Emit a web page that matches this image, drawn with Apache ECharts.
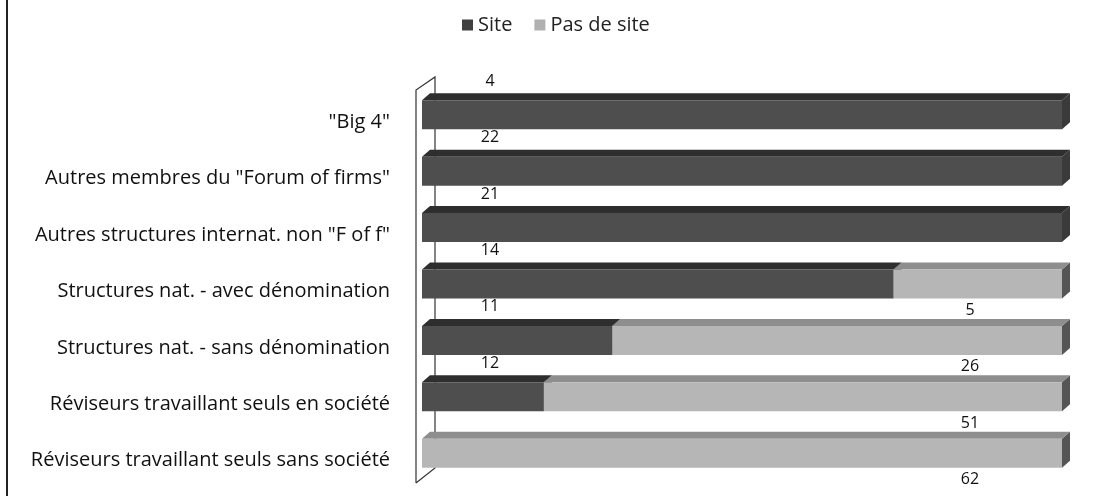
<!DOCTYPE html>
<html><head><meta charset="utf-8">
<script src="https://cdn.jsdelivr.net/npm/echarts@6/dist/echarts.min.js"></script>
<style>html,body{margin:0;padding:0;background:#fff}#c{width:1095px;height:496px}</style>
</head><body><div id="c"></div>
<script>
const categories = ['"Big 4"', 'Autres membres du "Forum of firms"', 'Autres structures internat. non "F of f"', 'Structures nat. - avec dénomination', 'Structures nat. - sans dénomination', 'Réviseurs travaillant seuls en société', 'Réviseurs travaillant seuls sans société'];
const siteValues = [4, 22, 21, 14, 11, 12, 0];
const pasDeSiteValues = [0, 0, 0, 5, 26, 51, 62];
const seriesNames = ['Site', 'Pas de site'];

const totals = siteValues.map((v, i) => v + pasDeSiteValues[i]);
const sitePct = siteValues.map((v, i) => v / totals[i] * 100);
const siteData = categories.map((c, i) => [0, sitePct[i], i, siteValues[i]]);
const pasData = categories.map((c, i) => [sitePct[i], 100, i, pasDeSiteValues[i]]);

const FONT = '"Open Sans"';
const DX = 8, DY = 7, FH = 29;
const GRID_TOP = 83, GRID_BOTTOM = 18, GRID_LEFT = 422, GRID_RIGHT = 33;

function makeRender(front, top, side, isSite) {
  return function (params, api) {
    const v = api.value(3);
    if (!v) return null;
    const p0 = api.coord([api.value(0), api.value(2)]);
    const p1 = api.coord([api.value(1), api.value(2)]);
    const cy = p0[1] + 3.5;
    const yt = cy - FH / 2, yb = cy + FH / 2;
    const x0 = p0[0], x1 = p1[0];
    const children = [
      { type: 'polygon', shape: { points: [[x1, yt], [x1 + DX, yt - DY], [x1 + DX, yb - DY], [x1, yb]] }, style: { fill: side } },
      { type: 'polygon', shape: { points: [[x0, yt], [x0 + DX, yt - DY], [x1 + DX, yt - DY], [x1, yt]] }, style: { fill: top } },
      { type: 'rect', shape: { x: x0, y: yt, width: x1 - x0, height: FH }, style: { fill: front } }
    ];
    if (isSite) {
      children.push({ type: 'text', x: x0 + 68, y: yt - DY - 12, style: { text: String(v), fill: '#111', font: '16px ' + FONT, align: 'center', verticalAlign: 'middle' } });
    } else {
      children.push({ type: 'text', x: x1 - 92, y: yb + 12, style: { text: String(v), fill: '#111', font: '16px ' + FONT, align: 'center', verticalAlign: 'middle' } });
    }
    return { type: 'group', children: children };
  };
}

const chart = echarts.init(document.getElementById('c'));
const option = {
  animation: false,
  backgroundColor: '#fff',
  legend: {
    top: 10, left: 457, itemGap: 22, itemWidth: 11, itemHeight: 11, icon: 'rect',
    textStyle: { fontFamily: 'Open Sans', fontSize: 20, color: '#222' },
    data: seriesNames
  },
  grid: { top: GRID_TOP, bottom: GRID_BOTTOM, left: GRID_LEFT, right: GRID_RIGHT },
  xAxis: { type: 'value', min: 0, max: 100, show: false },
  yAxis: {
    type: 'category', data: categories, inverse: true,
    axisLine: { show: false }, axisTick: { show: false },
    axisLabel: { fontFamily: 'Open Sans', fontSize: 20, color: '#111', margin: 32, verticalAlign: 'top', lineHeight: 22 }
  },
  series: [
    { name: seriesNames[0], type: 'custom', renderItem: makeRender('#4e4e4e', '#2e2e2e', '#3a3a3a', true),
      itemStyle: { color: '#404040' }, encode: { x: [0, 1], y: 2 }, data: siteData },
    { name: seriesNames[1], type: 'custom', renderItem: makeRender('#b6b6b6', '#8e8e8e', '#555555', false),
      itemStyle: { color: '#b0b0b0' }, encode: { x: [0, 1], y: 2 }, data: pasData }
  ]
};
chart.setOption(option);

const x0 = chart.convertToPixel({ gridIndex: 0 }, [0, 0])[0];
const gTop = GRID_TOP, gBot = 496 - GRID_BOTTOM;
const fx = x0 - 6, bx = x0 + 13;
chart.setOption({
  graphic: [
    { type: 'polyline', silent: true, z: 0, shape: { points: [[fx, gBot + 5], [fx, gTop + 7], [bx, gTop - 6], [bx, gBot - 10], [fx, gBot + 5]] }, style: { stroke: '#333', fill: null, lineWidth: 1.2 } },
    { type: 'line', silent: true, shape: { x1: 7, y1: 0, x2: 7, y2: 496 }, style: { stroke: '#222', lineWidth: 2 } }
  ]
});
</script>
</body></html>
